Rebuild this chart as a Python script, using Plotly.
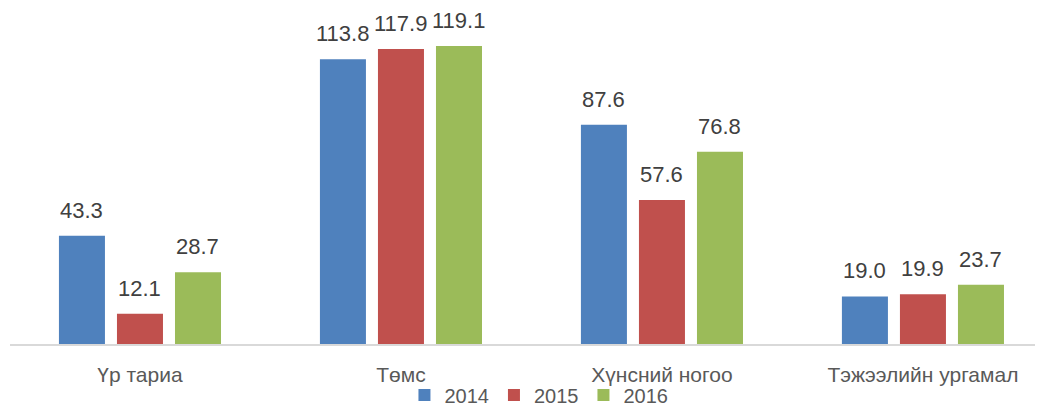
import plotly.graph_objects as go

categories = ['Үр тариа', 'Төмс', 'Хүнсний ногоо', 'Тэжээлийн ургамал']
years = ['2014', '2015', '2016']
values_2014 = [43.3, 113.8, 87.6, 19.0]
values_2015 = [12.1, 117.9, 57.6, 19.9]
values_2016 = [28.7, 119.1, 76.8, 23.7]

series = [values_2014, values_2015, values_2016]
colors = ['#4F81BD', '#C0504D', '#9BBB59']
font = 'Liberation Sans, Arial, sans-serif'

fig = go.Figure()
for name, vals, col in zip(years, series, colors):
    fig.add_trace(go.Bar(
        x=categories, y=vals, name=name,
        marker=dict(color=col, line=dict(width=0)),
        hoverinfo='x+y+name',
    ))

# data labels above each bar
annotations = []
for j, vals in enumerate(series):
    for cat, v in zip(categories, vals):
        annotations.append(dict(
            x=cat, y=v, xref='x', yref='y',
            text=f'{v:.1f}', showarrow=False,
            xanchor='center', yanchor='bottom',
            xshift=(j - 1) * 58, yshift=11,
            font=dict(family=font, size=22, color='#404040'),
        ))

# page body has an 8px margin, so the figure is a bit smaller than the window
fig.update_layout(
    width=1035, height=399,
    margin=dict(l=2, r=0, t=0, b=63, autoexpand=False),
    paper_bgcolor='white', plot_bgcolor='white',
    barmode='group', bargap=0.333, bargroupgap=0.207,
    font=dict(family=font, color='#595959'),
    annotations=annotations,
    showlegend=True,
    legend=dict(
        orientation='h', xref='container', yref='container',
        x=0.513, xanchor='center', y=0.03, yanchor='middle',
        bgcolor='rgba(0,0,0,0)',
        font=dict(family=font, size=20, color='#595959'),
        itemwidth=30, tracegroupgap=0,
    ),
    xaxis=dict(
        range=[-0.498, 3.46], showgrid=False, ticks='', automargin=False,
        showline=True, linecolor='#d9d9d9', linewidth=1.5,
        tickfont=dict(family=font, size=21, color='#595959'),
        ticklabelstandoff=11,
    ),
    yaxis=dict(range=[0, 134.3], visible=False, showgrid=False, zeroline=False,
               automargin=False),
)

fig.write_html('out.html')
